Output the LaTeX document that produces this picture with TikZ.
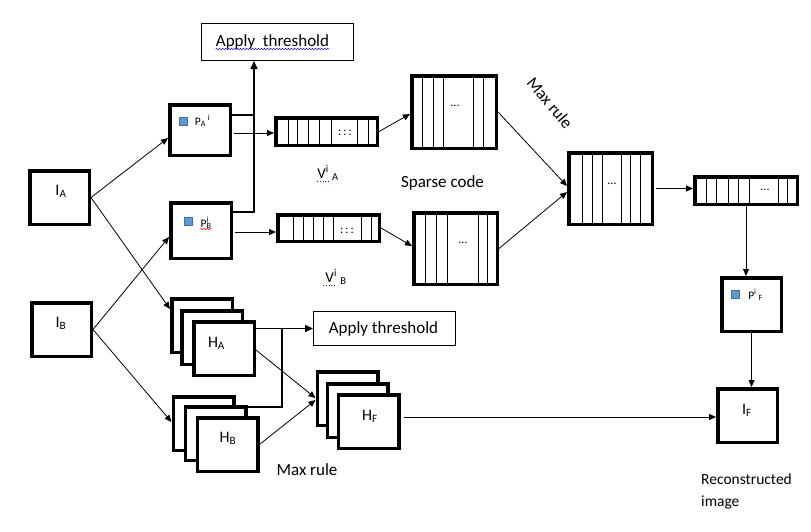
\documentclass[tikz,border=0pt]{standalone}
\usepackage{fontspec}
\setmainfont{Carlito}
\usetikzlibrary{arrows.meta,calc,decorations.pathmorphing}
\definecolor{sqfill}{HTML}{5B9BD5}
\definecolor{sqdraw}{HTML}{41719C}
\begin{document}
\begin{tikzpicture}[x=1pt,y=-1pt,
  box/.style={draw, line width=3.5pt, inner sep=0pt, fill=white},
  thinbox/.style={draw, line width=1.2pt, inner sep=0pt},
  arr/.style={line width=0.8pt, -{Triangle[length=7pt,width=6pt]}},
  arrb/.style={line width=1.5pt, -{Triangle[length=8pt,width=7pt]}},
  ln/.style={line width=1.5pt},
  cell/.style={line width=0.8pt},
  sq/.style={draw=sqdraw, fill=sqfill, line width=0.8pt, minimum size=8pt, inner sep=0pt},
  lbl/.style={inner sep=0pt, anchor=base},
  big/.style={font=\fontsize{17}{20}\selectfont},
  mid/.style={font=\fontsize{16}{19}\selectfont},
  small/.style={font=\fontsize{11.5}{13}\selectfont},
  dots/.style={inner sep=0pt, font=\fontsize{12}{12}\selectfont},
  wavy/.style={decorate, decoration={snake, amplitude=0.7pt, segment length=3pt}, line width=0.5pt},
]
\useasboundingbox (0,0) rectangle (811,531);
\fill[white] (0,0) rectangle (811,531);

% input images
\node[box, minimum width=59.5, minimum height=53.5] (ia) at (59.5,197.5) {};
\node[box, minimum width=59.5, minimum height=53.5] (ib) at (61.5,329.5) {};
\node[lbl, mid] (iat) at (61,195) {I\textsubscript{A}};
\node[lbl, mid] (ibt) at (61,327) {I\textsubscript{B}};

% patches
\node[box, minimum width=60.5, minimum height=50.5] (pa) at (200,130) {};
\node[box, minimum width=60.5, minimum height=55.5] (pb) at (201,230.5) {};
\node[sq] (pasq) at (183.5,121) {};
\node[sq] (pbsq) at (188,221) {};
\node[lbl, small] (pat) at (202.5,125) {P\textsubscript{A}\,\textsuperscript{i}};
\node[lbl, small] (pbt) at (206,227) {P\rlap{\textsuperscript{i}}\textsubscript{B}};
\draw[red, wavy] (200,229) -- (212,229);

% threshold boxes
\node[thinbox, minimum width=151.8, minimum height=36.8] (at1) at (277.5,42) {};
\node[lbl, big] (at1t) at (272.5,46) {Apply\ \ threshold};
\draw[blue, wavy] ($(at1t.base west)+(0,3)$) -- ($(at1t.base east)+(0,3)$);
\node[thinbox, minimum width=141.8, minimum height=33.8] (at2) at (384.5,328.5) {};
\node[lbl, big] (at2t) at (383.5,333) {Apply threshold};

% vectors
\node[box, minimum width=101.5, minimum height=27.5] (va) at (326.5,131.5) {};
\foreach \x in {288,297,308,319,331,357,368} \draw[cell] (\x,0 |- va.north) -- (\x,0 |- va.south);
\node[dots] (vad) at (345,133) {:\,:\,:};
\node[box, minimum width=101.5, minimum height=26.5] (vb) at (328.5,228) {};
\foreach \x in {293,303,313,323,333,361,371} \draw[cell] (\x,0 |- vb.north) -- (\x,0 |- vb.south);
\node[dots] (vbd) at (347,231) {:\,:\,:};
\node[lbl, font=\fontsize{15}{18}\selectfont] (vat) at (328,178) {V\textsuperscript{i}\ \textsubscript{A}};
\draw[blue, dotted, line width=0.8pt] (317,181.5) -- (330,181.5);
\node[lbl, font=\fontsize{15}{18}\selectfont] (vbt) at (336,282) {V\textsuperscript{i}\ \textsubscript{B}};
\draw[blue, dotted, line width=0.8pt] (323,285.5) -- (337,285.5);

% sparse codes
\node[box, minimum width=84.5, minimum height=72.5] (sa) at (454,112) {};
\foreach \x in {422,433,443,473,483} \draw[cell] (\x,0 |- sa.north) -- (\x,0 |- sa.south);
\node[dots] (sad) at (455,106) {...};
\node[box, minimum width=83.5, minimum height=71.5] (sb) at (455.5,248.5) {};
\foreach \x in {425,436,447,478,487} \draw[cell] (\x,0 |- sb.north) -- (\x,0 |- sb.south);
\node[dots] (sbd) at (463,243) {...};
\node[lbl, big] (sct) at (442.5,187) {Sparse code};

% merged
\node[box, minimum width=83.5, minimum height=71.5] (mg) at (610.5,188.5) {};
\foreach \x in {582,592,602,621,630,640} \draw[cell] (\x,0 |- mg.north) -- (\x,0 |- mg.south);
\node[dots] (mgd) at (612,184) {...};
\node[big, inner sep=0pt, rotate=-50] (mrt) at (550,103) {Max rule};

\node[box, minimum width=102.5, minimum height=27.5] (vf) at (746,190.5) {};
\foreach \x in {706,716,728,738,749,778,787} \draw[cell] (\x,0 |- vf.north) -- (\x,0 |- vf.south);
\node[dots] (vfd) at (765,190) {...};

\node[box, minimum width=59.5, minimum height=53.5] (pf) at (751.5,304.5) {};
\node[sq] (pfsq) at (735.5,294) {};
\node[lbl, small] (pft) at (755.5,299) {P\textsuperscript{i}\,\textsubscript{F}};

\node[box, minimum width=59.5, minimum height=53.5] (imf) at (747.5,415.5) {};
\node[lbl, mid] (imft) at (747,414) {I\textsubscript{F}};
\node[inner sep=0pt, anchor=base west, font=\fontsize{15.5}{18}\selectfont] (rec1) at (701,484) {Reconstructed};
\node[inner sep=0pt, anchor=base west, font=\fontsize{15.5}{18}\selectfont] (rec2) at (701,506) {image};

% H stacks
\node[box, minimum width=60.5, minimum height=53.5] (ha1) at (202,325.5) {};
\node[box, minimum width=60.5, minimum height=53.5] (ha2) at (212,337.5) {};
\node[box, minimum width=60.5, minimum height=53.5] (ha) at (224,348.5) {};
\node[lbl, mid] (hat) at (216.5,347) {H\textsubscript{A}};
\node[box, minimum width=60.5, minimum height=53.5] (hb1) at (203.5,423.5) {};
\node[box, minimum width=60.5, minimum height=53.5] (hb2) at (215.5,433.5) {};
\node[box, minimum width=60.5, minimum height=53.5] (hb) at (227.5,444.5) {};
\node[lbl, mid] (hbt) at (228,442) {H\textsubscript{B}};
\node[box, minimum width=60.5, minimum height=53.5] (hf1) at (347.5,398.5) {};
\node[box, minimum width=60.5, minimum height=53.5] (hf2) at (357.5,410.5) {};
\node[box, minimum width=60.5, minimum height=53.5] (hf) at (368.5,421.5) {};
\node[lbl, mid] (hft) at (370,420) {H\textsubscript{F}};
\node[lbl, big] (mrb) at (307,475) {Max rule};

% connectors
\draw[arr] (ia.east) -- (pa.west |- 0,138);
\draw[arr] (ia.east) -- (ha1.west |- 0,309);
\draw[arr] (ib.east) -- (pb.west |- 0,237);
\draw[arr] (ib.east) -- (hb1.west |- 0,422);

\coordinate (ja) at (254,115);
\coordinate (jb) at (254,212);
\draw[ln] (pa.east |- ja) -- (ja);
\draw[arrb] (pb.east |- jb) -- (jb) -- (at1.south -| jb);

\draw[arr, shorten <=2pt] (pa.east |- 0,133) -- (va.west |- 0,133);
\draw[arr, shorten <=2pt] (pb.east |- 0,232) -- (vb.west |- 0,232);
\draw[arr] (va.east) -- (sa.west |- 0,114);
\draw[arr] (vb.east) -- (sb.west |- 0,246);
\draw[arr] (sa.east) -- (mg.west |- 0,186);
\draw[arr] (sb.east) -- (mg.west |- 0,192);
\draw[arr, shorten <=2pt] (mg.east) -- (vf.west |- mg.east);
\draw[arr] (vf.south) -- (pf.north -| vf.south);
\draw[arr] (pf.south) -- (imf.north -| pf.south);
\draw[arr, shorten <=3pt] (hf.east |- 0,417) -- (imf.west |- 0,417);

\coordinate (jh) at (282,328.5);
\draw[arrb] (ha.east |- at2.west) -- (at2.west);
\draw[ln] (hb2.east |- 0,407) -- (jh |- 0,407) -- (jh);
\draw[arr] (ha.east |- 0,350) -- (hf1.west |- 0,398);
\draw[arr] (hb.east) -- (hf1.west |- 0,400);
\end{tikzpicture}
\end{document}
